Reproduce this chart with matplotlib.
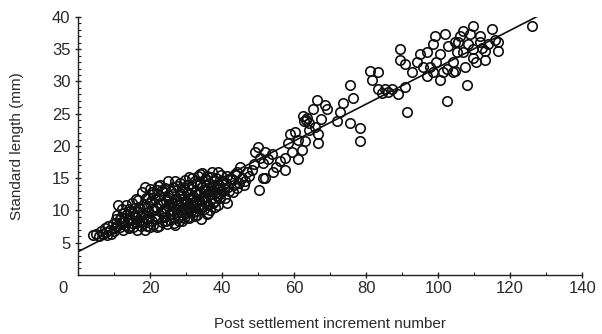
# Standard length vs post settlement increment number - scatter with fitted line
import matplotlib
matplotlib.use("Agg")
import matplotlib.pyplot as plt
from matplotlib.ticker import MultipleLocator
import numpy as np

plt.rcParams["font.family"] = ["Liberation Sans", "DejaVu Sans"]

# points (increment number, standard length mm)
x_early = [4.2, 5.0, 5.8, 6.3, 6.9, 7.4, 7.8, 8.3, 8.8, 9.2, 9.6, 10.1, 10.4, 9.9, 8.0,
           10.8, 11.1, 11.5, 11.9, 12.3, 12.6, 13.0, 13.4, 13.7, 14.1, 14.4, 14.8, 15.0,
           15.3, 15.6, 15.9, 16.2, 16.4, 16.7, 17.0, 17.2, 17.5, 17.8, 18.0, 18.3, 18.6,
           18.6, 18.9, 19.2, 19.5, 19.7, 20.0, 20.2, 20.4, 20.6, 20.8, 20.9]
y_early = [6.2, 6.4, 6.1, 6.8, 6.3, 7.2, 6.6, 7.6, 7.0, 6.4, 7.9, 7.2, 8.6, 6.8, 6.2,
           9.3, 10.9, 7.4, 8.2, 6.9, 9.6, 7.8, 10.8, 8.7, 7.2, 9.9, 11.2, 8.1,
           7.5, 10.4, 9.0, 6.9, 9.8, 11.6, 8.4, 10.2, 7.6, 12.9, 9.4, 11.0, 13.7,
           7.0, 8.6, 10.6, 12.1, 9.1, 7.4, 11.4, 8.3, 10.0, 7.8, 12.6]

x_mid = [21.2, 21.4, 21.6, 21.8, 22.0, 22.3, 22.5, 22.8, 22.9, 23.1, 23.3, 23.6, 23.8,
         24.0, 24.2, 24.4, 24.6, 24.9, 25.0, 25.2, 25.4, 25.6, 25.8, 26.0, 26.2, 26.4,
         26.7, 26.9, 27.1, 27.3, 27.5, 27.7, 27.9, 28.1, 28.3, 28.5, 28.7, 28.9, 29.1,
         29.3, 29.5, 29.7, 29.9, 30.0,
         30.2, 30.4, 30.6, 30.8, 31.0, 31.2, 31.4, 31.6, 31.9, 32.0, 32.2, 32.4, 32.6,
         32.8, 33.0, 33.2, 33.4, 33.6, 33.8, 34.0, 34.1, 34.3, 34.5, 34.7, 34.9, 35.1,
         35.3, 35.5, 35.7, 35.9, 36.1, 36.2, 36.4, 36.7, 36.9, 37.2, 37.4, 37.6, 37.9,
         38.1, 38.4, 38.6, 38.9, 39.1, 39.4, 39.7, 40.0]
y_mid = [9.2, 11.8, 8.6, 13.1, 10.4, 7.6, 12.2, 14.0, 9.7, 11.0, 8.2, 12.8, 10.1,
         9.0, 13.5, 11.5, 7.9, 10.7, 14.5, 12.0, 9.4, 8.5, 13.0, 11.1, 10.0, 12.6,
         8.9, 7.8, 11.8, 13.8, 9.8, 10.8, 12.3, 8.4, 14.2, 11.3, 9.3, 13.2, 10.4,
         12.0, 8.9, 14.7, 11.0, 9.6,
         12.8, 10.5, 14.0, 8.8, 11.8, 13.4, 9.9, 15.0, 9.8, 12.2, 10.9, 14.5, 11.4,
         13.0, 9.3, 15.4, 10.4, 12.6, 14.1, 11.0, 8.6, 13.6, 15.8, 12.0, 10.2, 14.8,
         11.5, 13.1, 9.5, 15.3, 9.6, 12.4, 14.3, 10.1, 13.5, 15.9, 11.2, 14.6, 12.7,
         10.6, 15.1, 13.3, 10.9, 14.0, 11.9, 15.5, 13.0]

# the solid-looking core of the cloud
x_core = [12.0, 12.8, 13.3, 14.0, 14.6, 15.2, 16.0, 16.8, 17.4, 18.2, 18.8, 19.4, 19.9,
          20.5, 21.0, 21.5, 22.1, 22.6, 23.2, 23.7, 24.3, 24.8, 25.3, 25.9, 26.3, 26.8,
          27.2, 27.8, 28.2, 28.6, 29.0, 29.4, 29.8, 30.3, 30.7, 31.1, 31.5, 31.8, 32.3,
          32.7, 33.1, 33.5, 33.9, 34.4, 34.8, 35.2, 35.6, 36.0, 36.5, 37.0, 37.5, 38.0,
          38.5, 39.0, 39.5, 40.5, 41.0, 42.0, 43.2, 44.0, 10.6, 11.6, 13.8, 17.7, 19.0,
          22.0, 24.5, 26.5, 28.8, 30.5, 32.5, 12.2, 16.0, 19.9, 22.2, 27.0, 30.9, 33.7,
          36.8, 38.8]
y_core = [9.0, 8.4, 9.3, 10.2, 8.5, 9.6, 8.0, 10.6, 9.2, 8.0, 12.0, 9.8, 11.2,
          12.9, 10.0, 10.6, 8.9, 11.2, 13.1, 9.0, 10.3, 12.4, 11.0, 9.6, 13.6, 11.6,
          10.2, 8.9, 12.7, 10.0, 11.8, 13.6, 10.2, 11.3, 12.6, 10.6, 13.8, 11.2, 12.9,
          9.9, 14.2, 11.6, 12.8, 10.6, 13.2, 12.1, 14.0, 10.8, 13.0, 11.8, 13.8, 11.4,
          12.2, 13.5, 12.5, 13.5, 14.2, 13.0, 14.0, 13.5, 7.6, 8.6, 7.4, 8.4, 7.6,
          7.4, 8.4, 8.0, 8.4, 9.0, 9.2, 10.2, 11.8, 13.4, 13.8, 14.6, 15.2, 15.6,
          15.2, 16.0]

x_late = [40.3, 40.8, 41.2, 41.4, 41.7, 42.2, 42.8, 43.0, 43.5, 44.2, 44.6, 45.0, 45.4,
          46.0, 46.4, 46.9, 47.5, 48.3, 48.8, 49.2, 50.0, 50.3, 50.6, 51.4, 51.4, 51.9,
          51.9,
          52.8, 53.9, 54.2, 55.0, 56.1, 57.5, 57.5, 58.3, 58.9, 59.4, 60.3, 61.1, 61.1,
          62.2, 62.5, 62.8, 63.0, 63.3, 63.6, 64.0, 64.2, 65.3, 65.8, 66.4, 66.7, 66.7,
          67.5, 68.6, 69.2, 71.9, 72.8, 73.6, 75.6, 75.6, 76.4, 78.3, 78.3,
          81.1, 83.3, 81.7, 83.3, 84.5, 85.3, 86.0, 87.2, 88.9, 90.8, 91.4, 89.4, 89.4,
          90.8, 92.8,
          94.2, 95.0, 96.9, 95.8, 97.8, 98.6, 100.6, 99.2, 101.9, 98.6, 100.6, 102.8,
          104.7, 104.2, 102.5, 104.2, 101.4, 102.5, 99.5, 97.0,
          126.1, 115.0, 109.7, 106.9, 106.1, 108.9, 111.7, 105.6, 108.3, 111.7, 113.9,
          115.8, 116.7, 116.7, 113.1, 113.1, 109.7, 109.7, 106.9, 105.3, 107.5, 104.7,
          108.1, 110.5, 112.3]
y_late = [14.5, 12.0, 15.3, 11.2, 13.7, 14.9, 14.8, 12.9, 15.6, 15.9, 14.2, 16.8, 15.1,
          14.0, 14.5, 16.0, 15.4, 16.3, 17.2, 19.0, 19.8, 13.1, 18.2, 17.4, 15.1, 19.0,
          15.1,
          17.9, 18.7, 15.9, 16.8, 17.6, 18.2, 16.3, 20.5, 21.8, 19.1, 22.1, 21.0, 17.9,
          19.4, 24.6, 23.9, 20.7, 24.0, 24.3, 23.5, 22.5, 25.7, 22.9, 27.2, 21.8, 20.5,
          24.2, 26.4, 25.7, 23.8, 25.2, 26.7, 29.5, 23.6, 27.5, 22.8, 20.7,
          31.6, 31.4, 30.3, 28.8, 28.2, 28.8, 28.4, 28.8, 28.0, 29.2, 25.3, 35.0, 33.4,
          32.7, 31.4,
          33.1, 34.2, 34.5, 32.3, 32.2, 31.4, 30.3, 37.0, 37.3, 35.8, 34.2, 35.5,
          36.1, 33.1, 31.9, 31.4, 31.4, 26.9, 33.0, 30.8,
          38.6, 38.1, 38.6, 37.8, 37.0, 37.3, 37.0, 36.1, 35.8, 36.1, 35.8,
          36.5, 36.1, 34.7, 34.7, 33.4, 33.7, 35.0, 34.5, 34.5, 32.3, 31.6,
          29.5, 33.0, 35.2]

x = np.array(x_early + x_mid + x_core + x_late)
y = np.array(y_early + y_mid + y_core + y_late)

slope, intercept = np.polyfit(x, y, 1)
line_x = np.array([0, 128.3])

fig = plt.figure(figsize=(6.02, 3.34), dpi=100)
ax = fig.add_axes([0.130, 0.177, 0.837, 0.772])

ax.plot(x, y, linestyle="none", marker="o", markersize=6.8,
        markerfacecolor="none", markeredgecolor="#111111", markeredgewidth=1.2)
ax.plot(line_x, intercept + slope * line_x, color="#111111", linewidth=1.2)

ax.set_xlim(0, 140)
ax.set_ylim(0, 40)
ax.xaxis.set_minor_locator(MultipleLocator(10))
ax.yaxis.set_minor_locator(MultipleLocator(1))
ax.set_xticks(range(20, 141, 20))
ax.set_yticks(range(5, 41, 5))

for s in ["top", "right"]:
    ax.spines[s].set_visible(False)
for s in ["left", "bottom"]:
    ax.spines[s].set_color("#222222")
    ax.spines[s].set_linewidth(1.0)

ax.tick_params(which="major", direction="inout", length=5, width=1.0,
               color="#222222", labelsize=12, labelcolor="#2a2a2a")
ax.tick_params(which="minor", direction="in", length=2, width=0.8, color="#222222")
ax.tick_params(axis="x", pad=2)
ax.tick_params(axis="y", pad=3)

# single shared zero at the origin
ax.text(-4.3, -2.1, "0", ha="center", va="center", fontsize=12, color="#2a2a2a")

ax.set_xlabel("Post settlement increment number", fontsize=11, color="#2a2a2a", labelpad=15)
ax.set_ylabel("Standard length (mm)", fontsize=11, color="#2a2a2a", labelpad=20)

fig.savefig("out.png", dpi=100)
